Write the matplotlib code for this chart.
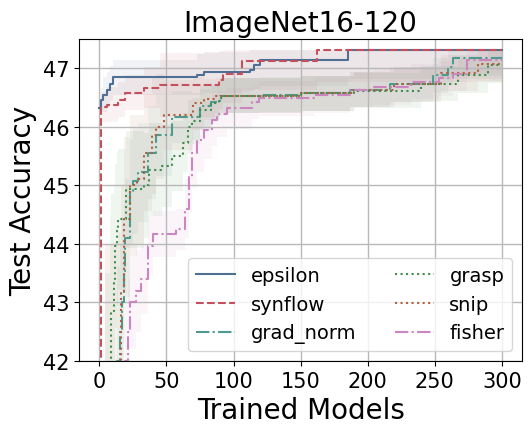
import numpy as np
import matplotlib
matplotlib.use("Agg")
import matplotlib.pyplot as plt

# best achievable test accuracy on the benchmark (bands are clipped to it)
best_acc = 47.31

# step points (trained models, mean test accuracy, spread)
eps_x = [0, 1, 3, 6, 8, 10, 40, 73, 78, 112, 115, 120, 185, 300]
eps_y = [46.32, 46.46, 46.55, 46.63, 46.74, 46.85, 46.85, 46.89, 46.93, 46.97, 47.05, 47.14, 47.31, 47.31]
eps_sd = [0.1, 0.2, 0.3, 0.3, 0.3, 0.3, 0.3, 0.35, 0.35, 0.35, 0.4, 0.45, 0.5, 0.5]

syn_x = [0, 1, 6, 14, 19, 33, 45, 89, 92, 106, 162, 300]
syn_y = [38.0, 46.34, 46.38, 46.46, 46.58, 46.67, 46.71, 46.8, 46.91, 47.13, 47.31, 47.31]
syn_sd = [0.0, 0.25, 0.3, 0.3, 0.3, 0.35, 0.55, 0.5, 0.5, 0.5, 0.55, 0.55]

gn_x = [0, 6, 13, 15, 17, 18, 19, 23, 25, 29, 36, 42, 54, 69, 75, 83, 90, 120, 150, 187, 217, 249, 260, 264, 300]
gn_y = [38.0, 40.0, 42.0, 42.5, 43.0, 43.5, 44.1, 44.9, 45.07, 45.22, 45.56, 45.86, 46.17, 46.17, 46.35, 46.43, 46.53, 46.55, 46.57, 46.63, 46.73, 46.88, 47.02, 47.17, 47.17]
gn_sd = [2.0, 2.0, 1.6, 1.5, 1.4, 1.2, 1.0, 0.9, 0.9, 0.85, 0.8, 0.7, 0.45, 0.4, 0.35, 0.3, 0.3, 0.3, 0.3, 0.3, 0.3, 0.3, 0.3, 0.3, 0.3]

gr_x = [0, 4, 8, 9, 11, 12, 13, 14, 20, 33, 37, 47, 54, 62, 66, 69, 75, 83, 89, 92, 150, 190, 240, 267, 290, 300]
gr_y = [38.0, 40.5, 42.0, 42.85, 43.4, 43.97, 44.25, 44.42, 44.93, 45.0, 45.27, 45.33, 45.5, 45.73, 46.0, 46.1, 46.29, 46.4, 46.49, 46.53, 46.57, 46.62, 46.74, 46.88, 47.05, 47.05]
gr_sd = [3.0, 3.0, 2.5, 2.0, 1.6, 1.4, 1.3, 1.2, 1.0, 0.9, 0.8, 0.7, 0.6, 0.5, 0.45, 0.4, 0.35, 0.3, 0.3, 0.3, 0.3, 0.3, 0.3, 0.3, 0.3, 0.3]

sn_x = [0, 4, 14, 16, 18, 23, 28, 33, 39, 42, 48, 70, 78, 86, 150, 190, 220, 255, 282, 300]
sn_y = [38.0, 40.5, 42.0, 43.2, 44.42, 45.0, 45.1, 45.56, 45.86, 46.0, 46.2, 46.4, 46.47, 46.53, 46.57, 46.63, 46.73, 46.92, 47.08, 47.08]
sn_sd = [3.5, 3.5, 2.2, 1.8, 1.4, 1.2, 1.1, 1.0, 1.0, 0.9, 0.6, 0.45, 0.35, 0.3, 0.3, 0.3, 0.3, 0.3, 0.3, 0.3]

fi_x = [0, 10, 19, 21, 23, 27, 31, 36, 40, 57, 64, 67, 69, 73, 78, 84, 88, 95, 114, 119, 140, 160, 187, 204, 232, 253, 264, 274, 300]
fi_y = [38.0, 40.0, 42.0, 42.5, 43.0, 43.2, 43.4, 43.97, 44.17, 44.25, 44.6, 45.15, 45.56, 45.78, 45.95, 46.12, 46.22, 46.32, 46.43, 46.49, 46.49, 46.54, 46.63, 46.68, 46.77, 46.83, 46.91, 47.15, 47.15]
fi_sd = [1.5, 1.5, 1.0, 0.9, 0.8, 0.7, 0.6, 0.5, 0.4, 0.35, 0.5, 0.6, 0.6, 0.55, 0.5, 0.45, 0.4, 0.35, 0.3, 0.3, 0.3, 0.3, 0.3, 0.3, 0.3, 0.3, 0.3, 0.25, 0.25]

series = [
    ("epsilon", eps_x, eps_y, eps_sd, "#4e7094", "-"),
    ("synflow", syn_x, syn_y, syn_sd, "#c4505c", "--"),
    ("grad_norm", gn_x, gn_y, gn_sd, "#4f9a8f", "-."),
    ("grasp", gr_x, gr_y, gr_sd, "#3e8e4c", ":"),
    ("snip", sn_x, sn_y, sn_sd, "#b0603f", ":"),
    ("fisher", fi_x, fi_y, fi_sd, "#cc85c0", "-."),
]

fig, ax = plt.subplots(figsize=(5.32, 4.35), dpi=100)

for name, xs, ys, sd, color, ls in series:
    xs = np.asarray(xs)
    ys = np.asarray(ys)
    sd = np.asarray(sd)
    lo = ys - sd
    hi = np.minimum(ys + sd, best_acc)
    ax.fill_between(xs, lo, hi, step="post", color=color, alpha=0.08, linewidth=0)
    ax.step(xs, ys, where="post", color=color, linestyle=ls, linewidth=1.5, label=name)

ax.set_xlim(-15, 315)
ax.set_ylim(42, 47.5)
ax.set_yticks([42, 43, 44, 45, 46, 47])
ax.grid(True, color="#b8b8b8", linewidth=1)
ax.tick_params(labelsize=15)
ax.set_title("ImageNet16-120", fontsize=20)
ax.set_xlabel("Trained Models", fontsize=20)
ax.set_ylabel("Test Accuracy", fontsize=20)
ax.legend(loc="lower right", ncol=2, fontsize=14)

fig.subplots_adjust(left=0.149, right=0.981, top=0.908, bottom=0.168)
fig.savefig("out.png", dpi=100)
